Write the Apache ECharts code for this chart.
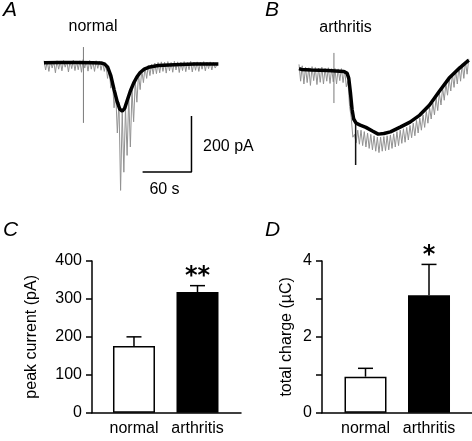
<!DOCTYPE html>
<html>
<head>
<meta charset="utf-8">
<script src="https://cdn.jsdelivr.net/npm/echarts@6/dist/echarts.min.js"></script>
<style>html,body{margin:0;padding:0;background:#fff}#c{width:472px;height:441px}</style>
</head>
<body>
<div id="c"></div>
<script>
// ---------- DATA ----------
// Panel A (normal) trace: time (s) and current (pA)
const traceA_dt = 2;
const traceA_raw = [8,-25,6,-30,7,-18,5,-35,8,-22,6,-28,9,-15,6,-32,7,-20,10,-27,6,-24,8,-33,12,-18,7,-29,9,-22,6,-30,8,-19,7,-26,
  4,-30,-5,-55,-20,-90,-60,-160,-105,-250,-140,-455,-175,-390,-160,-330,-120,-300,-95,-210,-65,-140,-40,-95,-25,-70,-15,-55,-8,-45,-5,-40,0,-38,2,-35,
  4,-30,3,-36,5,-28,2,-33,6,-25,4,-34,3,-27,5,-31,2,-24,6,-32,3,-26,4,-30,2,-22,5,-28,3,-20,4,-25,2,-18,-8];
const traceA_mean = [[0,1],[20,2],[40,2],[60,1],[70,0],[74,-3],[78,-14],[82,-45],[86,-95],[90,-140],[93,-165],[96,-172],[99,-162],
  [102,-135],[106,-100],[110,-72],[114,-50],[118,-34],[123,-22],[130,-14],[140,-9],[160,-6],[185,-4],[214,-4]];
const traceA_artifact = [[48.4,57],[48.4,-214]];

// Panel B (arthritis) trace
const traceB_dt = 2;
const traceB_raw = [20,-40,15,-50,10,-45,8,-55,12,-38,9,-52,7,-44,10,-50,6,-40,8,-48,5,-42,6,-50,4,-38,5,-45,0,-60,
  -40,-130,-170,-240,-230,-260,-215,-265,-215,-270,-220,-275,-225,-280,-230,-285,-235,-290,-240,-295,-240,-290,-238,-288,
  -235,-285,-232,-280,-228,-275,-220,-270,-215,-262,-210,-258,-205,-250,-198,-242,-190,-235,-180,-225,-172,-215,-160,-205,
  -148,-190,-135,-175,-118,-160,-100,-145,-82,-125,-65,-108,-48,-90,-32,-75,-15,-62,-2,-50,12,-40,22,-30,30,-15,40];
const traceB_mean = [[0,5],[3,2],[15,0],[35,-2],[55,-5],[59,-12],[61,-30],[63,-80],[65,-140],[67,-175],[70,-190],[75,-197],
  [82,-205],[90,-218],[97,-229],[104,-227],[112,-221],[124,-204],[136,-186],[148,-161],[160,-125],[172,-76],[184,-29],[196,5],[208,35]];
const traceB_artifact = [[42.8,61],[42.8,-118]];
const traceB_spike = [[69.4,-190],[69.4,-339]];

// Scale bar: 60 s, 200 pA
const scaleBar = [[121,-389],[181,-389],[181,-189]];
const scaleLabels = ['60 s', '200 pA'];

// Panels C & D
const categories = ['normal', 'arthritis'];
const peakMean = [176, 318];
const peakSem = [24, 17];
const peakSig = ['', '**'];
const chargeMean = [0.95, 3.1];
const chargeSem = [0.22, 0.81];
const chargeSig = ['', '*'];
const peakTicks = [0, 100, 200, 300, 400];
const chargeTicks = [0, 1, 2, 3, 4];

// ---------- CHART ----------
const FONT = 'Liberation Sans, Arial, sans-serif';
const chart = echarts.init(document.getElementById('c'), null, {renderer: 'canvas'});

const toPairs = (arr, dt) => arr.map((v, i) => [i * dt, v]);
const lineS = (data, gi, color, w, z) => ({
  type: 'line', xAxisIndex: gi, yAxisIndex: gi, data, showSymbol: false, symbol: 'none',
  lineStyle: {color, width: w}, z: z || 2, silent: true, animation: false
});

function barData(means) {
  return means.map((v, i) => ({
    value: [i, v],
    itemStyle: i === 0 ? {color: '#fff', borderColor: '#000', borderWidth: 1.5} : {color: '#000', borderColor: '#000', borderWidth: 1.5}
  }));
}
function errSeries(gi, means, sems, sig) {
  return {
    type: 'custom', xAxisIndex: gi, yAxisIndex: gi, z: 5, silent: true, animation: false,
    data: means.map((v, i) => [i, v, sems[i]]),
    renderItem: function (params, api) {
      const x = api.value(0), y = api.value(1), e = api.value(2);
      const base = api.coord([x, y]);
      const top = api.coord([x, y + e]);
      const half = 7.5;
      const st = {stroke: '#000', lineWidth: 1.5};
      const children = [
        {type: 'line', shape: {x1: base[0], y1: base[1], x2: top[0], y2: top[1]}, style: st},
        {type: 'line', shape: {x1: top[0] - half, y1: top[1], x2: top[0] + half, y2: top[1]}, style: st}
      ];
      const s = sig[params.dataIndex];
      if (s) {
        children.push({type: 'text', style: {text: s, x: top[0], y: top[1] - 9, align: 'center', verticalAlign: 'middle',
          fontFamily: 'DejaVu Sans', fontWeight: 'bold', fontSize: 24, fill: '#000'}});
      }
      return {type: 'group', children};
    }
  };
}

const hiddenAxis = (min, max, gi) => ({type: 'value', gridIndex: gi, min, max, show: false});

function catXAxis(gi, min, max) {
  return {
    type: 'value', gridIndex: gi, min, max,
    axisLine: {show: true, onZero: false, lineStyle: {color: '#000', width: 1.5}},
    axisTick: {show: false},
    splitLine: {show: false},
    axisLabel: {customValues: categories.map((c, i) => i), formatter: v => categories[Math.round(v)] || '',
      color: '#000', fontSize: 16, fontFamily: FONT, margin: 8}
  };
}
function valYAxis(gi, ticks, name, gap, fmt) {
  return {
    type: 'value', gridIndex: gi, min: ticks[0], max: ticks[ticks.length - 1], interval: ticks[1] - ticks[0],
    name, nameLocation: 'middle', nameRotate: 90, nameGap: gap,
    nameTextStyle: {color: '#000', fontSize: 16, fontFamily: FONT},
    axisLine: {show: true, onZero: false, lineStyle: {color: '#000', width: 1.5}},
    axisTick: {show: true, inside: false, length: 6, lineStyle: {color: '#000', width: 1.5}},
    splitLine: {show: false},
    axisLabel: {color: '#000', fontSize: 16, fontFamily: FONT, margin: 10, formatter: fmt || (v => String(v))}
  };
}

const txt = (text, x, y, align, size, italic) => ({
  type: 'text', x, y, silent: true,
  style: {text, align, verticalAlign: 'middle', fontSize: size, fontFamily: FONT, fontStyle: italic ? 'italic' : 'normal', fill: '#000'}
});

const option = {
  animation: false,
  backgroundColor: '#fff',
  grid: [
    {left: 44, top: 35, width: 176, height: 168},
    {left: 299, top: 42, width: 173, height: 168},
    {left: 92, top: 261, width: 149, height: 151.7},
    {left: 322, top: 261, width: 150, height: 151.7}
  ],
  xAxis: [
    hiddenAxis(0, 216, 0),
    hiddenAxis(0, 212, 1),
    catXAxis(2, -0.661, 1.685),
    catXAxis(3, -0.685, 1.677)
  ],
  yAxis: [
    hiddenAxis(-500, 100, 0),
    hiddenAxis(-500, 100, 1),
    valYAxis(2, peakTicks, 'peak current (pA)', 52),
    valYAxis(3, chargeTicks, 'total charge (µC)', 27, v => (v % 2 === 0 ? String(v) : ''))
  ],
  series: [
    lineS(toPairs(traceA_raw, traceA_dt), 0, '#929292', 1, 1),
    lineS(traceA_artifact, 0, '#7a7a7a', 1, 1),
    lineS(traceA_mean, 0, '#000', 3.5, 3),
    lineS(scaleBar, 0, '#000', 1.5, 3),
    lineS(toPairs(traceB_raw, traceB_dt), 1, '#929292', 1, 1),
    lineS(traceB_artifact, 1, '#7a7a7a', 1, 1),
    lineS(traceB_spike, 1, '#111', 1.5, 3),
    lineS(traceB_mean, 1, '#000', 3.5, 3),
    {type: 'bar', xAxisIndex: 2, yAxisIndex: 2, barWidth: 42, data: barData(peakMean), silent: true, z: 2},
    errSeries(2, peakMean, peakSem, peakSig),
    {type: 'bar', xAxisIndex: 3, yAxisIndex: 3, barWidth: 42, data: barData(chargeMean), silent: true, z: 2},
    errSeries(3, chargeMean, chargeSem, chargeSig)
  ],
  graphic: [
    txt('A', 3, 10, 'left', 21, true),
    txt('B', 265, 10, 'left', 21, true),
    txt('C', 3, 230, 'left', 21, true),
    txt('D', 265, 230, 'left', 21, true),
    txt('normal', 93, 27, 'center', 16),
    txt('arthritis', 345.5, 28, 'center', 16),
    txt(scaleLabels[1], 203, 147, 'left', 16),
    txt(scaleLabels[0], 164.5, 190, 'center', 16)
  ]
};
chart.setOption(option);
</script>
</body>
</html>
